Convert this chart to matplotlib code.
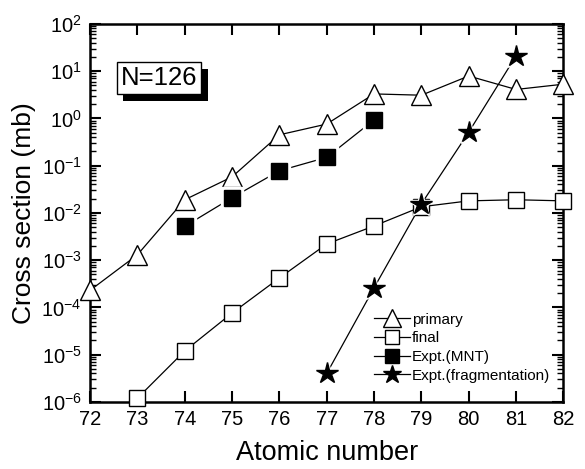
import matplotlib.pyplot as plt
import matplotlib.patheffects as pe
from matplotlib.ticker import LogLocator, NullFormatter

plt.rcParams['font.family'] = ['Liberation Sans', 'DejaVu Sans']
plt.rcParams['mathtext.fontset'] = 'custom'
plt.rcParams['mathtext.rm'] = 'Liberation Sans'

# --- data ---
z_primary = [72, 73, 74, 75, 76, 77, 78, 79, 80, 81, 82]
primary = [2.3e-4, 1.3e-3, 0.019, 0.058, 0.45, 0.76, 3.3, 3.1, 7.9, 4.1, 5.3]

z_final = [73, 74, 75, 76, 77, 78, 79, 80, 81, 82]
final = [1.2e-6, 1.2e-5, 7.6e-5, 4.2e-4, 2.2e-3, 5.3e-3, 0.0135, 0.018, 0.019, 0.018]

z_mnt = [74, 75, 76, 77, 78]
mnt = [5.2e-3, 0.021, 0.078, 0.15, 0.93]

z_frag = [77, 78, 79, 80, 81]
frag = [4e-6, 2.6e-4, 0.0155, 0.51, 21]

x_ticks = list(range(72, 83))

fig = plt.figure(figsize=(5.85, 4.69), dpi=100)
ax = fig.add_axes([0.154, 0.143, 0.809, 0.806])

lw = 0.9
ax.plot(z_primary, primary, '-', color='black', lw=lw, marker='^', ms=15,
        mfc='white', mec='black', mew=1.0, label='primary', clip_on=False, zorder=3)
ax.plot(z_final, final, '-', color='black', lw=lw, marker='s', ms=12,
        mfc='white', mec='black', mew=1.0, label='final', clip_on=False, zorder=3)
# white halo so the lines stop short of the filled markers
ax.plot(z_mnt, mnt, 's', ms=16, color='white', zorder=4)
ax.plot(z_mnt, mnt, '-', color='black', lw=lw, marker='s', ms=12,
        mfc='black', mec='black', label='Expt.(MNT)', zorder=2)
ax.plot(z_mnt, mnt, 's', ms=12, color='black', zorder=5)
ax.plot(z_frag, frag, '*', ms=20, color='white', zorder=4)
ax.plot(z_frag, frag, '-', color='black', lw=lw, marker='*', ms=16,
        mfc='black', mec='black', label='Expt.(fragmentation)', zorder=2)
ax.plot(z_frag, frag, '*', ms=16, color='black', zorder=5)

ax.set_yscale('log')
ax.set_xlim(72, 82)
ax.set_ylim(1e-6, 1e2)
ax.set_xticks(x_ticks)
ax.set_yticks([10.0 ** k for k in range(-6, 3)])
ax.yaxis.set_minor_locator(LogLocator(base=10, subs=range(2, 10), numticks=20))
ax.yaxis.set_minor_formatter(NullFormatter())

ax.tick_params(which='major', direction='in', length=8, width=1.5,
               top=True, right=True, labelsize=14.5, pad=6)
ax.tick_params(which='minor', direction='in', length=4, width=1.0,
               left=True, right=True)
for s in ax.spines.values():
    s.set_linewidth(1.8)

ax.set_xlabel('Atomic number', fontsize=19.5, labelpad=8)
ax.set_ylabel('Cross section (mb)', fontsize=19, labelpad=4)

t = ax.text(0.064, 0.857, 'N=126', transform=ax.transAxes, fontsize=18.5,
            ha='left', va='center', zorder=6,
            bbox=dict(boxstyle='square,pad=0.15', fc='white', ec='black', lw=1.0))
t.get_bbox_patch().set_path_effects(
    [pe.SimplePatchShadow(offset=(5, -5), shadow_rgbFace='black', alpha=1.0), pe.Normal()])

leg = ax.legend(loc='lower right', bbox_to_anchor=(0.985, 0.035), frameon=False,
                fontsize=11, handlelength=2.3, handletextpad=0.15,
                labelspacing=0.3, borderaxespad=0, markerscale=0.85)

fig.savefig('out.png', dpi=100)
